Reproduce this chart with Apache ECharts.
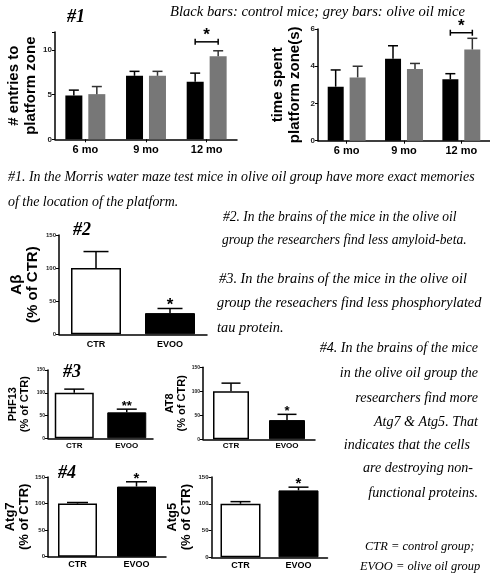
<!DOCTYPE html>
<html><head><meta charset="utf-8">
<script src="https://cdn.jsdelivr.net/npm/echarts@6/dist/echarts.min.js"></script>
<style>html,body{margin:0;padding:0;background:#fff}#c{width:490px;height:581px}</style>
</head><body><div id="c"></div>
<script>
// ---------- data ----------
const months = ['6 mo', '9 mo', '12 mo'];
const entriesControl = [4.9, 7.1, 6.45];
const entriesControlErr = [5.5, 7.6, 7.4];
const entriesOlive = [5.05, 7.1, 9.3];
const entriesOliveErr = [5.9, 7.6, 9.9];
const entriesSigLevel = [null, null, 10.9];
const entriesTicks = [0, 5, 10];

const timeControl = [2.9, 4.4, 3.3];
const timeControlErr = [3.8, 5.1, 3.6];
const timeOlive = [3.4, 3.85, 4.9];
const timeOliveErr = [4.0, 4.15, 5.5];
const timeSigLevel = [null, null, 5.8];
const timeTicks = [0, 2, 4, 6];

const groups = ['CTR', 'EVOO'];
const pctTicks = [0, 50, 100, 150];
const abeta = [100, 32];  const abetaErr = [125, 39];  const abetaSig = ['', '*'];
const phf13 = [100, 57];  const phf13Err = [108, 64];  const phf13Sig = ['', '**'];
const at8 = [100, 40];    const at8Err = [117, 52];    const at8Sig = ['', '*'];
const atg7 = [100, 132];  const atg7Err = [102, 141];  const atg7Sig = ['', '*'];
const atg5 = [100, 125];  const atg5Err = [104, 131];  const atg5Sig = ['', '*'];

const legendText = 'Black bars: control mice; grey bars: olive oil mice';
const note1 = ['#1. In the Morris water maze test mice in olive oil group have more exact memories', 'of the location of the platform.'];
const note2 = ['#2. In the brains of the mice in the olive oil', 'group the researchers find less amyloid-beta.'];
const note3 = ['#3. In the brains of the mice in the olive oil', 'group the reseachers find less phosphorylated', 'tau protein.'];
const note4 = ['#4. In the brains of the mice', 'in the olive oil group the', 'researchers find more', 'Atg7 & Atg5. That', 'indicates that the cells', 'are destroying non-', 'functional proteins.'];
const note5 = ['CTR = control group;', 'EVOO = olive oil group'];

// ---------- helpers ----------
const FONT = '"Liberation Sans", Arial, sans-serif';
const HAND = '"Liberation Serif", serif';

const grids = [
  {left: 55, top: 32, width: 182, height: 107.3},
  {left: 318, top: 29, width: 172, height: 111.7},
  {left: 59, top: 235, width: 148, height: 99.3},
  {left: 48, top: 370, width: 105, height: 68.3},
  {left: 203, top: 367.3, width: 112, height: 72},
  {left: 48, top: 477, width: 118, height: 79.7},
  {left: 211.5, top: 477, width: 116, height: 80.3}
];

function yAx(gi, ticks, max, name, nameSize, lh, nameGap, labelSize) {
  const interval = ticks[1] - ticks[0];
  return {
    type: 'value', gridIndex: gi, min: ticks[0], max: max, interval: interval,
    axisLine: {show: true, lineStyle: {color: '#000', width: 1.5}},
    axisTick: {show: true, length: 3, lineStyle: {color: '#000', width: 1}},
    axisLabel: {fontSize: labelSize, fontWeight: 'bold', color: '#222', margin: 3, fontFamily: FONT,
      formatter: v => ticks.indexOf(v) >= 0 ? String(v) : ''},
    splitLine: {show: false},
    name: name, nameLocation: 'middle', nameRotate: 90, nameGap: nameGap,
    nameTextStyle: {fontSize: nameSize, fontWeight: 'bold', color: '#000', lineHeight: lh, fontFamily: FONT, align: 'center'}
  };
}
function xAx(gi, data, fontSize, margin, ticks) {
  return {
    type: 'category', gridIndex: gi, data: data,
    axisLine: {lineStyle: {color: '#000', width: 1.5}},
    axisTick: {show: ticks, alignWithLabel: true, length: 3, lineStyle: {color: '#000'}},
    axisLabel: {fontSize: fontSize, fontWeight: 'bold', color: '#000', margin: margin, fontFamily: FONT}
  };
}
function errSeries(ai, vals, errs, offset, cap, color) {
  return {
    type: 'custom', xAxisIndex: ai, yAxisIndex: ai, z: 5, silent: true,
    data: vals.map((v, i) => [i, v, errs[i]]),
    renderItem: (params, api) => {
      const a = api.coord([api.value(0), api.value(1)]);
      const b = api.coord([api.value(0), api.value(2)]);
      const x = a[0] + offset;
      const st = {stroke: color || '#000', lineWidth: 1.5};
      return {type: 'group', children: [
        {type: 'line', shape: {x1: x, y1: a[1], x2: x, y2: b[1]}, style: st},
        {type: 'line', shape: {x1: x - cap / 2, y1: b[1], x2: x + cap / 2, y2: b[1]}, style: st}
      ]};
    }
  };
}
function sigBracket(ai, levels, half, starGap) {
  return {
    type: 'custom', xAxisIndex: ai, yAxisIndex: ai, z: 6, silent: true,
    data: levels.map((l, i) => [i, l]).filter(d => d[1] !== null),
    renderItem: (params, api) => {
      const c = api.coord([api.value(0), api.value(1)]);
      const st = {stroke: '#000', lineWidth: 1.5};
      return {type: 'group', children: [
        {type: 'line', shape: {x1: c[0] - half, y1: c[1], x2: c[0] + half, y2: c[1]}, style: st},
        {type: 'line', shape: {x1: c[0] - half, y1: c[1] - 3, x2: c[0] - half, y2: c[1] + 3}, style: st},
        {type: 'line', shape: {x1: c[0] + half, y1: c[1] - 3, x2: c[0] + half, y2: c[1] + 3}, style: st},
        {type: 'text', x: c[0], y: c[1] - starGap, style: {text: '*', font: 'bold 17px ' + FONT, fill: '#000', align: 'center', verticalAlign: 'middle'}}
      ]};
    }
  };
}
function starSeries(ai, errs, sigs, size) {
  return {
    type: 'custom', xAxisIndex: ai, yAxisIndex: ai, z: 6, silent: true,
    data: errs.map((e, i) => [i, e, sigs[i]]).filter(d => d[2] !== ''),
    renderItem: (params, api) => {
      const c = api.coord([api.value(0), api.value(1)]);
      return {type: 'text', x: c[0], y: c[1] - 3, style: {text: api.value(2), font: 'bold ' + size + 'px ' + FONT, fill: '#000', align: 'center', verticalAlign: 'middle'}};
    }
  };
}
function pctBars(ai, vals, width) {
  return {
    type: 'bar', xAxisIndex: ai, yAxisIndex: ai, barWidth: width, silent: true,
    data: vals.map((v, i) => ({value: v, itemStyle: i === 0 ? {color: '#fff', borderColor: '#000', borderWidth: 1.5} : {color: '#000', borderColor: '#000', borderWidth: 1}}))
  };
}

// ---------- text fitting ----------
const mctx = document.createElement('canvas').getContext('2d');
function fitSize(lines, widths, weight) {
  mctx.font = 'italic ' + (weight || 'normal') + ' 20px ' + HAND;
  let s = 0;
  lines.forEach((t, i) => { s += widths[i] / mctx.measureText(t).width; });
  return 20 * s / lines.length;
}
function handBlock(lines, xs, ys, widths, align) {
  const size = fitSize(lines, widths);
  return lines.map((t, i) => ({
    type: 'text', silent: true, x: xs[i], y: ys[i],
    style: {text: t, font: 'italic ' + size.toFixed(2) + 'px ' + HAND, fill: '#000', align: align || 'left', verticalAlign: 'middle'}
  }));
}
function tag(t, x, y) {
  return {type: 'text', silent: true, x: x, y: y, style: {text: t, font: 'italic bold 18px ' + HAND, fill: '#000', align: 'left', verticalAlign: 'middle'}};
}

const graphics = [].concat(
  handBlock([legendText], [170], [12], [295]),
  handBlock(note1, [8, 8], [177, 202], [462, 172]),
  handBlock(note2, [223, 222], [217, 240], [240, 238]),
  handBlock(note3, [219, 217, 217], [279, 303, 328], [244, 263, 68]),
  handBlock(note4, [478, 478, 478, 478, 470, 473, 478], [348, 373, 398, 422, 445, 468, 493], [160, 136, 120, 106, 135, 102, 112], 'right'),
  handBlock(note5, [365, 360], [547, 567], [108, 122]),
  [tag('#1', 67, 17), tag('#2', 73, 230), tag('#3', 63, 372), tag('#4', 58, 473)]
);

const option = {
  animation: false,
  backgroundColor: '#fff',
  grid: grids,
  xAxis: [
    xAx(0, months, 11, 5, true),
    xAx(1, months, 11, 5, true),
    xAx(2, groups, 9, 6, false),
    xAx(3, groups, 8, 3, false),
    xAx(4, groups, 8, 2, false),
    xAx(5, groups, 9, 3.5, false),
    xAx(6, groups, 9, 3.5, false)
  ],
  yAxis: [
    yAx(0, entriesTicks, 12, '# entries to\nplatform zone', 15, 17, 14.5, 8),
    yAx(1, timeTicks, 6, 'time spent\nplatform zone(s)', 15, 17, 14.5, 8),
    yAx(2, pctTicks, 150, 'A\u03b2\n(% of CTR)', 15, 16, 18, 6),
    yAx(3, pctTicks, 150, 'PHF13\n(% of CTR)', 11, 12, 17, 5),
    yAx(4, pctTicks, 150, 'AT8\n(% of CTR)', 11, 12, 12, 5),
    yAx(5, pctTicks, 150, 'Atg7\n(% of CTR)', 13, 14, 16, 6),
    yAx(6, pctTicks, 150, 'Atg5\n(% of CTR)', 13, 14, 18.5, 6)
  ],
  graphic: graphics,
  series: [
    {type: 'bar', xAxisIndex: 0, yAxisIndex: 0, data: entriesControl, barWidth: 17, barGap: '35%', itemStyle: {color: '#000'}, silent: true},
    {type: 'bar', xAxisIndex: 0, yAxisIndex: 0, data: entriesOlive, barWidth: 17, barGap: '35%', itemStyle: {color: '#777'}, silent: true},
    errSeries(0, entriesControl, entriesControlErr, -11.5, 10),
    errSeries(0, entriesOlive, entriesOliveErr, 11.5, 10, '#333'),
    sigBracket(0, entriesSigLevel, 11.5, 7),
    {type: 'bar', xAxisIndex: 1, yAxisIndex: 1, data: timeControl, barWidth: 16, barGap: '37%', itemStyle: {color: '#000'}, silent: true},
    {type: 'bar', xAxisIndex: 1, yAxisIndex: 1, data: timeOlive, barWidth: 16, barGap: '37%', itemStyle: {color: '#777'}, silent: true},
    errSeries(1, timeControl, timeControlErr, -11, 10),
    errSeries(1, timeOlive, timeOliveErr, 11, 10, '#333'),
    sigBracket(1, timeSigLevel, 11, 6),
    pctBars(2, abeta, 50), errSeries(2, abeta, abetaErr, 0, 25), starSeries(2, abetaErr, abetaSig, 17),
    pctBars(3, phf13, 39), errSeries(3, phf13, phf13Err, 0, 20), starSeries(3, phf13Err, phf13Sig, 13),
    pctBars(4, at8, 36), errSeries(4, at8, at8Err, 0, 19), starSeries(4, at8Err, at8Sig, 13),
    pctBars(5, atg7, 39), errSeries(5, atg7, atg7Err, 0, 21), starSeries(5, atg7Err, atg7Sig, 15),
    pctBars(6, atg5, 40), errSeries(6, atg5, atg5Err, 0, 20), starSeries(6, atg5Err, atg5Sig, 15)
  ]
};
const chart = echarts.init(document.getElementById('c'), null, {renderer: 'canvas'});
chart.setOption(option);
</script>
</body></html>
